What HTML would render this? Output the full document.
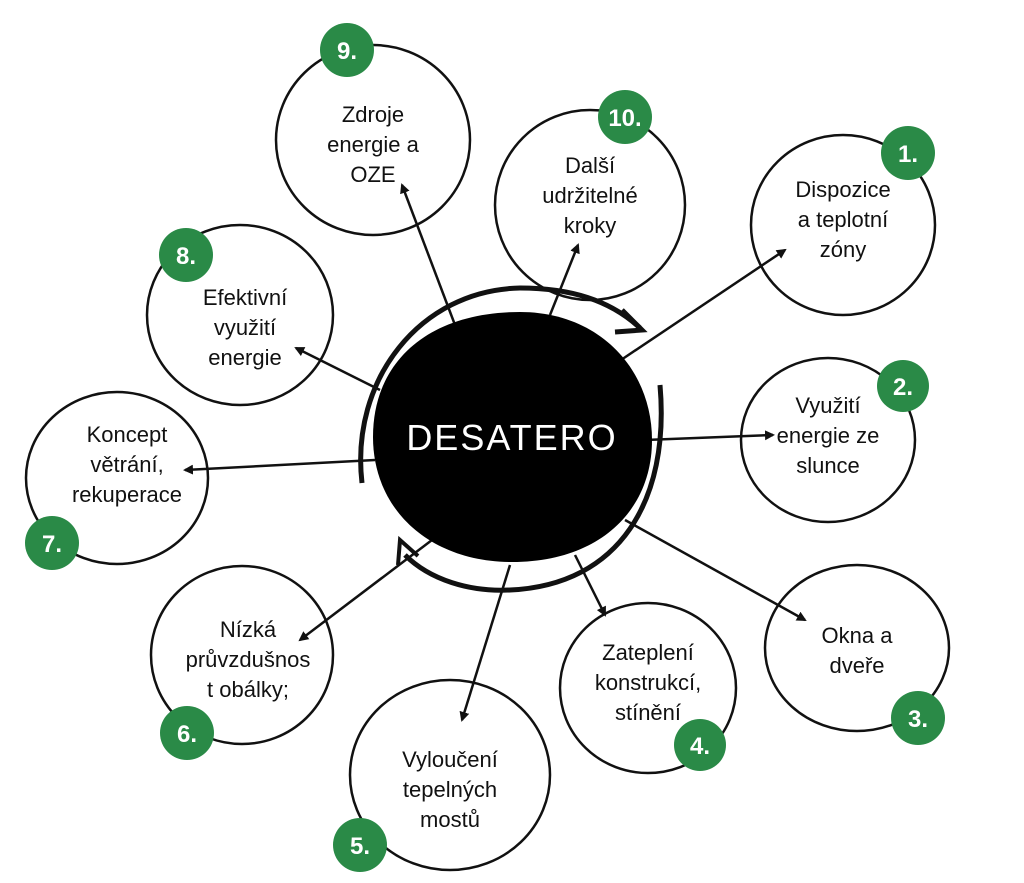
<!DOCTYPE html>
<html><head><meta charset="utf-8"><style>
html,body{margin:0;padding:0;background:#fff;}
svg{display:block;}
.t{font-family:"Liberation Sans",sans-serif;font-size:22px;fill:#111;text-anchor:middle;}
.b{font-family:"Liberation Sans",sans-serif;font-size:24px;font-weight:bold;fill:#fff;text-anchor:middle;}
.c{fill:#fff;stroke:#111;stroke-width:2.5;}
.g{fill:#2a8a47;}
.l{stroke:#111;stroke-width:2.5;fill:none;}
</style></head><body>
<svg width="1024" height="883" viewBox="0 0 1024 883" xmlns="http://www.w3.org/2000/svg">
<defs><marker id="a" markerWidth="10" markerHeight="10" refX="8" refY="5" orient="auto" markerUnits="userSpaceOnUse"><path d="M0,0 L10,5 L0,10 Z" fill="#111"/></marker></defs>
<!-- circles -->
<ellipse class="c" cx="373" cy="140" rx="97" ry="95"/>
<ellipse class="c" cx="590" cy="205" rx="95" ry="95"/>
<ellipse class="c" cx="843" cy="225" rx="92" ry="90"/>
<ellipse class="c" cx="828" cy="440" rx="87" ry="82"/>
<ellipse class="c" cx="857" cy="648" rx="92" ry="83"/>
<ellipse class="c" cx="648" cy="688" rx="88" ry="85"/>
<ellipse class="c" cx="450" cy="775" rx="100" ry="95"/>
<ellipse class="c" cx="242" cy="655" rx="91" ry="89"/>
<ellipse class="c" cx="117" cy="478" rx="91" ry="86"/>
<ellipse class="c" cx="240" cy="315" rx="93" ry="90"/>
<!-- connectors -->
<line class="l" x1="455" y1="325" x2="402" y2="185" marker-end="url(#a)"/>
<line class="l" x1="550" y1="315" x2="578" y2="245" marker-end="url(#a)"/>
<line class="l" x1="618" y1="362" x2="785" y2="250" marker-end="url(#a)"/>
<line class="l" x1="645" y1="440" x2="773" y2="435" marker-end="url(#a)"/>
<line class="l" x1="625" y1="520" x2="805" y2="620" marker-end="url(#a)"/>
<line class="l" x1="575" y1="555" x2="605" y2="615" marker-end="url(#a)"/>
<line class="l" x1="510" y1="565" x2="462" y2="720" marker-end="url(#a)"/>
<line class="l" x1="432" y1="540" x2="300" y2="640" marker-end="url(#a)"/>
<line class="l" x1="375" y1="460" x2="185" y2="470" marker-end="url(#a)"/>
<line class="l" x1="380" y1="390" x2="296" y2="348" marker-end="url(#a)"/>
<!-- outer arcs -->
<path d="M362,483 C350,380 420,290 520,288 C570,288 610,300 640,328" stroke="#111" stroke-width="5" fill="none"/>
<path d="M622,310 L642,330 L615,332" stroke="#111" stroke-width="5" fill="none"/>
<path d="M660,385 C670,500 620,585 510,590 C470,592 430,580 405,555" stroke="#111" stroke-width="5" fill="none"/>
<path d="M398,565 L400,540 L418,556" stroke="#111" stroke-width="4" fill="none"/>
<!-- center -->
<path d="M373,437 C373,360 430,312 520,312 C600,312 652,370 652,440 C652,510 600,562 512,562 C430,562 373,510 373,437 Z" fill="#000"/>
<text x="512" y="450" font-family="Liberation Sans,sans-serif" font-size="36" fill="#fff" text-anchor="middle" letter-spacing="2">DESATERO</text>
<!-- labels -->
<text class="t" x="373" y="122">Zdroje</text><text class="t" x="373" y="152">energie a</text><text class="t" x="373" y="182">OZE</text>
<text class="t" x="590" y="173">Další</text><text class="t" x="590" y="203">udržitelné</text><text class="t" x="590" y="233">kroky</text>
<text class="t" x="843" y="197">Dispozice</text><text class="t" x="843" y="227">a teplotní</text><text class="t" x="843" y="257">zóny</text>
<text class="t" x="828" y="413">Využití</text><text class="t" x="828" y="443">energie ze</text><text class="t" x="828" y="473">slunce</text>
<text class="t" x="857" y="643">Okna a</text><text class="t" x="857" y="673">dveře</text>
<text class="t" x="648" y="660">Zateplení</text><text class="t" x="648" y="690">konstrukcí,</text><text class="t" x="648" y="720">stínění</text>
<text class="t" x="450" y="767">Vyloučení</text><text class="t" x="450" y="797">tepelných</text><text class="t" x="450" y="827">mostů</text>
<text class="t" x="248" y="637">Nízká</text><text class="t" x="248" y="667">průvzdušnos</text><text class="t" x="248" y="697">t obálky;</text>
<text class="t" x="127" y="442">Koncept</text><text class="t" x="127" y="472">větrání,</text><text class="t" x="127" y="502">rekuperace</text>
<text class="t" x="245" y="305">Efektivní</text><text class="t" x="245" y="335">využití</text><text class="t" x="245" y="365">energie</text>
<!-- badges -->
<circle class="g" cx="347" cy="50" r="27"/><text class="b" x="347" y="59">9.</text>
<circle class="g" cx="625" cy="117" r="27"/><text class="b" x="625" y="126">10.</text>
<circle class="g" cx="908" cy="153" r="27"/><text class="b" x="908" y="162">1.</text>
<circle class="g" cx="903" cy="386" r="26"/><text class="b" x="903" y="395">2.</text>
<circle class="g" cx="918" cy="718" r="27"/><text class="b" x="918" y="727">3.</text>
<circle class="g" cx="700" cy="745" r="26"/><text class="b" x="700" y="754">4.</text>
<circle class="g" cx="360" cy="845" r="27"/><text class="b" x="360" y="854">5.</text>
<circle class="g" cx="187" cy="733" r="27"/><text class="b" x="187" y="742">6.</text>
<circle class="g" cx="52" cy="543" r="27"/><text class="b" x="52" y="552">7.</text>
<circle class="g" cx="186" cy="255" r="27"/><text class="b" x="186" y="264">8.</text>
</svg>
</body></html>
